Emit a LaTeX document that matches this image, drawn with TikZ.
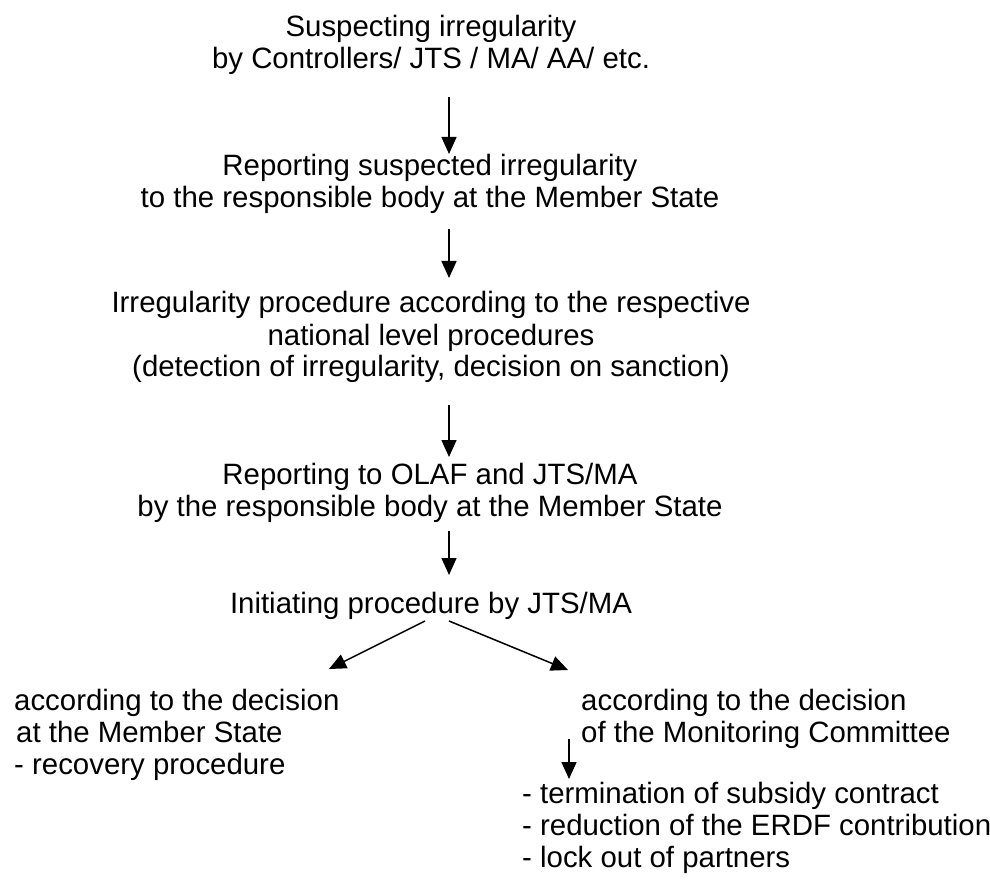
\documentclass[tikz,border=0pt]{standalone}
\usepackage{fontspec}
\setmainfont{Liberation Sans}
\usetikzlibrary{arrows.meta,calc}
\tikzset{
  txt/.style={inner sep=0pt, font=\fontsize{29.4}{32}\selectfont, anchor=base},
  txtl/.style={txt, align=left, anchor=base west},
  txtc/.style={txt, align=center},
  arr/.style={line width=1.5pt, -{Triangle[length=17pt,width=15pt]}}
}
\begin{document}
\begin{tikzpicture}[x=1pt,y=-1pt]
\useasboundingbox (0,0) rectangle (990,882);
% nodes are placed at the baseline of their last line
\node[txtc] (A) at (431,69) {Suspecting irregularity\\by Controllers/ JTS / MA/ AA/ etc.};
\node[txtc] (B) at (430,208) {Reporting suspected irregularity\\to the responsible body at the Member State};
\node[txtc] (C) at (431,377) {Irregularity procedure according to the respective\\national level procedures\\(detection of irregularity, decision on sanction)};
\node[txtc] (D) at (430,516) {Reporting to OLAF and JTS/MA\\by the responsible body at the Member State};
\node[txtc] (E) at (431,613) {Initiating procedure by JTS/MA};
\node[txtl] (F) at (14,774) {according to the decision\\\hspace{2pt}at the Member State\\- recovery procedure};
\node[txtl] (G) at (581,742) {according to the decision\\of the Monitoring Committee};
\node[txtl] (H) at (522,867) {- termination of subsidy contract\\- reduction of the ERDF contribution\\- lock out of partners};
\draw[arr] ($(A.base)+(18,28)$) -- ($(B.base)+(19,-54)$);
\draw[arr] ($(B.base)+(19,21)$) -- ($(C.base)+(18,-99)$);
\draw[arr] ($(C.base)+(18,28)$) -- ($(D.base)+(19,-59)$);
\draw[arr] ($(D.base)+(19,15)$) -- ($(E.base)+(18,-38)$);
\draw[arr] ($(E.base)+(-6,8)$) -- ($(F.base west)+(315,-105)$);
\draw[arr] ($(E.base)+(18,8)$) -- ($(G.base west)+(-13,-72)$);
\draw[arr] ($(G.base west)+(-12,-3)$) -- ($(H.base west)+(47,-88)$);
\end{tikzpicture}
\end{document}
